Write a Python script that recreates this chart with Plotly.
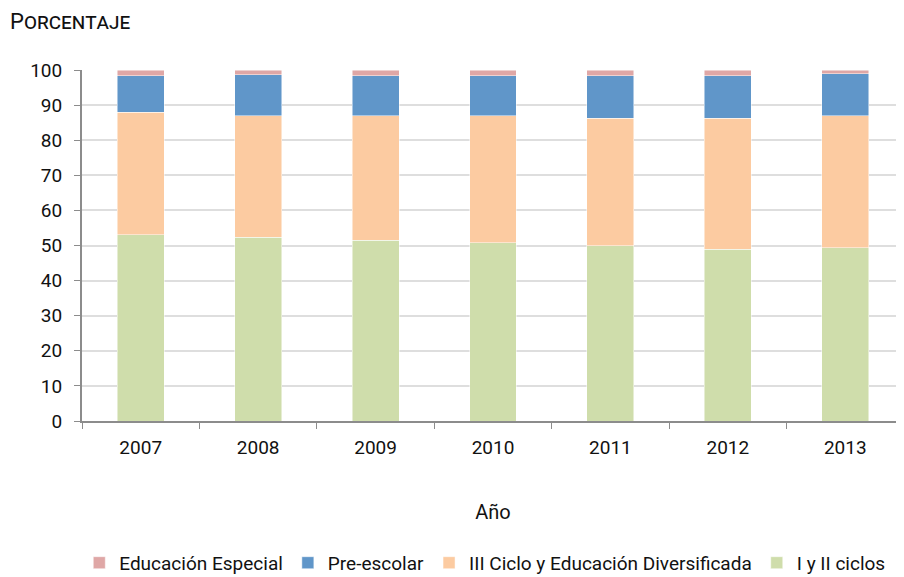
import plotly.graph_objects as go

years = ["2007", "2008", "2009", "2010", "2011", "2012", "2013"]
i_ii_ciclos = [53.0, 52.4, 51.5, 50.8, 49.9, 48.9, 49.4]
iii_ciclo = [35.0, 34.5, 35.4, 36.1, 36.4, 37.4, 37.5]
preescolar = [10.4, 11.7, 11.5, 11.5, 12.1, 12.1, 12.1]
especial = [1.6, 1.4, 1.6, 1.6, 1.6, 1.6, 1.0]

names = ["I y II ciclos", "III Ciclo y Educación Diversificada", "Pre-escolar", "Educación Especial"]
series = [i_ii_ciclos, iii_ciclo, preescolar, especial]
colors = ["#cfddab", "#fccba1", "#6096c9", "#dfa7a6"]

FONT = "Roboto, sans-serif"

fig = go.Figure()
for n, s, c in zip(names, series, colors):
    fig.add_trace(go.Bar(x=years, y=s, name=n,
                         marker=dict(color=c, line=dict(color="rgba(255,255,255,0.6)", width=0.8)),
                         width=0.4))

fig.update_layout(
    barmode="stack",
    width=896, height=569,
    margin=dict(l=74, r=0, t=62, b=156, autoexpand=False),
    plot_bgcolor="white", paper_bgcolor="white",
    font=dict(family=FONT, size=18, color="#111"),
    showlegend=True,
    legend=dict(orientation="h", traceorder="reversed", x=0.49, xanchor="center", y=-0.35, yanchor="top",
                font=dict(size=19), itemwidth=30, tracegroupgap=0),
)
fig.add_annotation(text="Porcentaje", xref="paper", yref="paper",
                   x=-0.09, y=1.18, xanchor="left", yanchor="top", showarrow=False,
                   font=dict(size=22, family=FONT, variant="small-caps"))
fig.update_yaxes(range=[0, 100], dtick=10, showgrid=True, gridcolor="#dedede", gridwidth=1.5,
                 showline=True, linecolor="#8c8c8c", linewidth=2, ticks="outside", ticklen=6, tickcolor="#8c8c8c",
                 tickfont=dict(size=19), zeroline=False, ticklabelstandoff=8, automargin=False)
fig.update_xaxes(showline=True, linecolor="#8c8c8c", linewidth=2, ticks="outside", tickson="boundaries",
                 ticklen=6, tickcolor="#8c8c8c", tickfont=dict(size=19), ticklabelstandoff=8, automargin=False,
                 title=dict(text="Año", font=dict(size=20), standoff=47))
fig.write_html("out.html")
